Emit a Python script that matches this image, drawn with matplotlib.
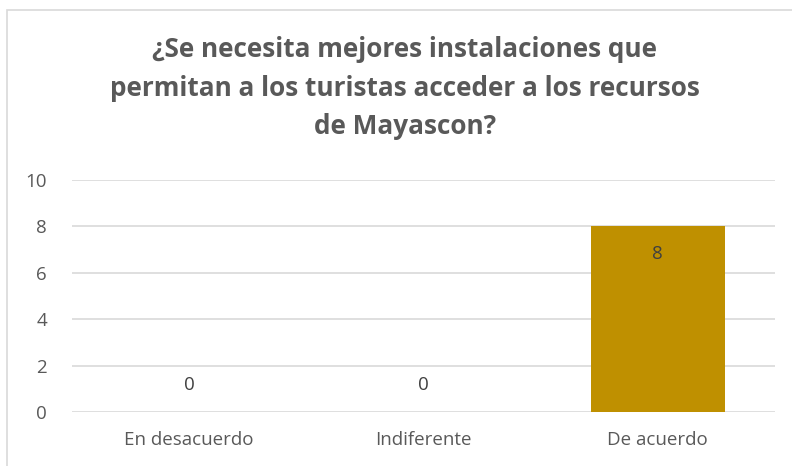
import matplotlib
matplotlib.use("Agg")
import matplotlib.pyplot as plt
from matplotlib.patches import Rectangle

categories = ["En desacuerdo", "Indiferente", "De acuerdo"]
values = [0, 0, 8]
yticks = [0, 2, 4, 6, 8, 10]
title = "¿Se necesita mejores instalaciones que\npermitan a los turistas acceder a los recursos\nde Mayascon?"

plt.rcParams['font.family'] = ['Open Sans', 'DejaVu Sans']
txt = '#595959'

fig = plt.figure(figsize=(7.92, 4.66), dpi=100)
W, H = 792, 466
ax = fig.add_axes([72 / W, 1 - 412 / H, (775 - 72) / W, (412 - 180) / H])

# outer chart border
fig.patches.append(Rectangle((7 / W, -0.01), 1.0, 1 - 10 / H + 0.01, transform=fig.transFigure,
                             fill=False, edgecolor='#D9D9D9', linewidth=1.2))

x = range(len(categories))
ax.bar(x, values, width=0.57, color='#BF9000', zorder=3)
ax.set_xlim(-0.5, 2.5)
ax.set_ylim(0, 10)
ax.set_yticks(yticks)
ax.set_xticks(list(x))
ax.set_xticklabels(categories)
ax.grid(axis='y', color='#D9D9D9', linewidth=1.2, zorder=0)
for s in ax.spines.values():
    s.set_visible(False)
ax.tick_params(axis='both', length=0, colors=txt, labelsize=13.5)
ax.tick_params(axis='y', pad=18)
ax.tick_params(axis='x', pad=14)

for i, v in enumerate(values):
    if v > 0:
        ax.text(i, v - 1.2, str(v), ha='center', va='center', fontsize=13.5, color='#404040')
    else:
        ax.text(i, v + 1.15, str(v), ha='center', va='center', fontsize=13.5, color='#404040')

fig.text(0.5 + 9 / W, 1 - 88 / H, title, ha='center', va='center', fontsize=18.8,
         fontweight='bold', color=txt, linespacing=1.55)

fig.savefig('out.png', dpi=100)
